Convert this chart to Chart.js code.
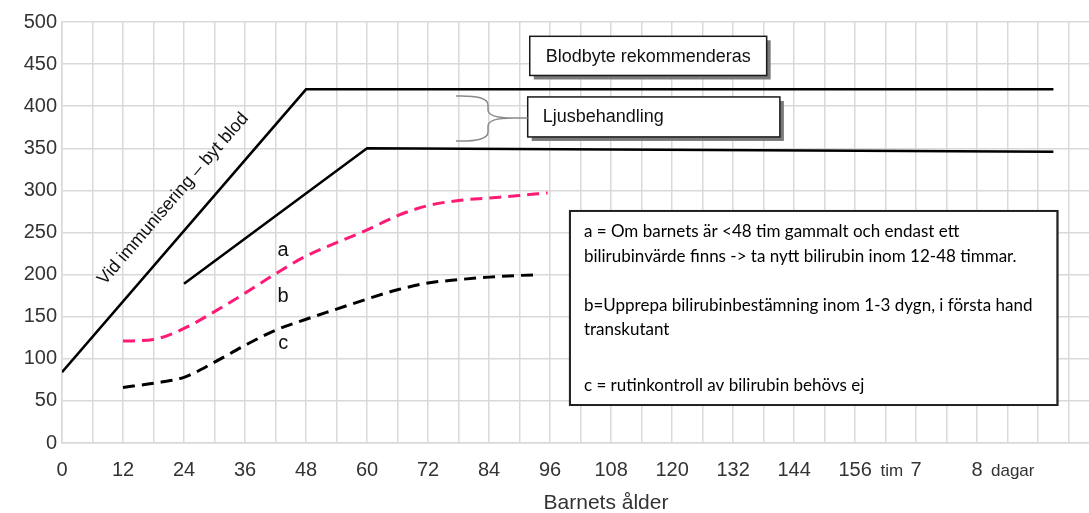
<!DOCTYPE html>
<html lang="sv">
<head>
<meta charset="utf-8">
<title>Bilirubin – Barnets ålder</title>
<script src="https://cdn.jsdelivr.net/npm/chart.js@4.4.1/dist/chart.umd.min.js"></script>
<style>
  html, body { margin: 0; padding: 0; background: #fff; }
  canvas { display: block; }
</style>
</head>
<body>
<canvas id="chart" width="1089" height="513"></canvas>
<script>
// Gränslinjer (timmar, µmol/L)
const exchangeHours = [0, 48, 195];
const exchangeLevels = [84, 420, 420];
const lightHours = [24, 60, 195];
const lightLevels = [189, 350, 346];

// Streckade kurvor
const curveAHours = [12, 18, 24, 30, 36, 42, 48, 54, 60, 66, 72, 78, 84, 90, 95.5];
const curveALevels = [121, 123, 136, 156, 178, 201, 222, 238, 253, 270, 282, 288, 291, 294, 297];
const curveCHours = [12, 18, 24, 30, 36, 42, 48, 54, 60, 66, 72, 78, 84, 90, 94];
const curveCLevels = [66, 71, 78, 96, 116, 134, 147, 159, 171, 182, 190, 194, 197, 199, 200];

// Axlar
const xTickHours = [0, 12, 24, 36, 48, 60, 72, 84, 96, 108, 120, 132, 144, 156, 168, 180];
const xTickLabels = ['0', '12', '24', '36', '48', '60', '72', '84', '96', '108', '120', '132', '144', '156', '7', '8'];
const yTicks = [0, 50, 100, 150, 200, 250, 300, 350, 400, 450, 500];

const infoLines = [
  'a = Om barnets är <48 tim gammalt och endast ett',
  'bilirubinvärde finns -> ta nytt bilirubin inom 12-48 timmar.',
  'b=Upprepa bilirubinbestämning inom 1-3 dygn, i första hand',
  'transkutant',
  'c = rutinkontroll av bilirubin behövs ej'
];

const toPoints = (xs, ys) => xs.map((h, i) => ({ x: h, y: ys[i] }));

const AXIS_FONT = '"Liberation Sans", Arial, sans-serif';

const overlay = {
  id: 'overlay',
  afterDraw(chart) {
    const { ctx, scales: { x, y } } = chart;
    const px = v => x.getPixelForValue(v);
    const py = v => y.getPixelForValue(v);

    function box(h0, v0, h1, v1, shadow) {
      const l = px(h0), t = py(v0), w = px(h1) - l, hgt = py(v1) - t;
      if (shadow) {
        ctx.fillStyle = '#7a7a7a';
        ctx.fillRect(l + 4, t + 4, w, hgt);
      }
      ctx.fillStyle = '#fff';
      ctx.fillRect(l, t, w, hgt);
      ctx.strokeStyle = '#1a1a1a';
      ctx.lineWidth = 1.5;
      ctx.strokeRect(l, t, w, hgt);
      return { l, t, w, h: hgt };
    }

    ctx.save();

    // texten längs blodbyteslinjen
    ctx.save();
    const ang = Math.atan2(py(exchangeLevels[1]) - py(exchangeLevels[0]),
                           px(exchangeHours[1]) - px(exchangeHours[0]));
    ctx.translate(px(22.6), py(286));
    ctx.rotate(ang);
    ctx.font = '18px ' + AXIS_FONT;
    ctx.fillStyle = '#111';
    ctx.textAlign = 'center';
    ctx.textBaseline = 'alphabetic';
    ctx.fillText('Vid immunisering – byt blod', 0, 0);
    ctx.restore();

    // a, b, c
    ctx.font = '20px ' + AXIS_FONT;
    ctx.fillStyle = '#111';
    ctx.textAlign = 'center';
    ctx.textBaseline = 'middle';
    ctx.fillText('a', px(43.5), py(229));
    ctx.fillText('b', px(43.5), py(174));
    ctx.fillText('c', px(43.5), py(118));

    // Blodbyte-rutan
    let b = box(92, 483, 138.6, 436.5, true);
    ctx.font = '18px ' + AXIS_FONT;
    ctx.fillStyle = '#111';
    ctx.textAlign = 'center';
    ctx.fillText('Blodbyte rekommenderas', b.l + b.w / 2, b.t + b.h / 2 + 1);

    // Ljusbehandling-rutan
    b = box(91.6, 411, 141.2, 363.5, true);
    ctx.fillStyle = '#111';
    ctx.textAlign = 'left';
    ctx.fillText('Ljusbehandling', b.l + 15, b.t + b.h / 2);

    // klammer
    const bx0 = px(77.5), bx1 = px(83.8), bx2 = px(88.7);
    const by0 = py(412), bym = py(386), by1 = py(358.7);
    ctx.strokeStyle = '#8a8a8a';
    ctx.lineWidth = 1.5;
    ctx.beginPath();
    ctx.moveTo(bx0, by0);
    ctx.quadraticCurveTo(bx1, by0 - 1, bx1, by0 + 9);
    ctx.lineTo(bx1, bym - 8);
    ctx.quadraticCurveTo(bx1, bym, bx2, bym);
    ctx.quadraticCurveTo(bx1, bym, bx1, bym + 8);
    ctx.lineTo(bx1, by1 - 9);
    ctx.quadraticCurveTo(bx1, by1 + 1, bx0, by1);
    ctx.moveTo(bx2, bym);
    ctx.lineTo(b.l, bym);
    ctx.stroke();

    // förklaringsrutan
    const lb = box(99.9, 275.6, 195.8, 45.1, false);
    ctx.lineWidth = 2;
    ctx.strokeStyle = '#222';
    ctx.strokeRect(lb.l, lb.t, lb.w, lb.h);
    ctx.font = '17px Lato, "Open Sans", sans-serif';
    ctx.fillStyle = '#000';
    ctx.textAlign = 'left';
    ctx.textBaseline = 'middle';
    const lineOffsets = [21, 46, 95, 119, 175];
    infoLines.forEach((txt, i) => ctx.fillText(txt, lb.l + 14, lb.t + lineOffsets[i]));

    // tim / dagar under x-axeln
    ctx.font = '17px ' + AXIS_FONT;
    ctx.fillStyle = '#333';
    ctx.textAlign = 'center';
    ctx.fillText('tim', px(163.2), x.top + 28);
    ctx.fillText('dagar', px(187), x.top + 28);

    // axeltitel
    ctx.font = '21px ' + AXIS_FONT;
    ctx.fillText('Barnets ålder', px(107), x.top + 60);

    ctx.restore();
  }
};

new Chart(document.getElementById('chart'), {
  type: 'scatter',
  data: {
    datasets: [
      {
        label: 'Blodbyte',
        data: toPoints(exchangeHours, exchangeLevels),
        showLine: true,
        borderColor: '#000',
        borderWidth: 2.5,
        pointRadius: 0,
        tension: 0
      },
      {
        label: 'Ljusbehandling',
        data: toPoints(lightHours, lightLevels),
        showLine: true,
        borderColor: '#000',
        borderWidth: 2.5,
        pointRadius: 0,
        tension: 0
      },
      {
        label: 'a/b',
        data: toPoints(curveAHours, curveALevels),
        showLine: true,
        borderColor: '#ff1a75',
        borderWidth: 3,
        borderDash: [12, 7],
        pointRadius: 0,
        cubicInterpolationMode: 'monotone'
      },
      {
        label: 'b/c',
        data: toPoints(curveCHours, curveCLevels),
        showLine: true,
        borderColor: '#000',
        borderWidth: 3,
        borderDash: [12, 7],
        pointRadius: 0,
        cubicInterpolationMode: 'monotone'
      }
    ]
  },
  options: {
    responsive: false,
    animation: false,
    devicePixelRatio: 1,
    layout: { padding: { top: 22, right: 0, bottom: 0, left: 0 } },
    plugins: {
      legend: { display: false },
      tooltip: { enabled: false }
    },
    scales: {
      x: {
        type: 'linear',
        min: 0,
        max: 202,
        afterBuildTicks: s => {
          const t = [];
          for (let h = 0; h <= 198; h += 6) t.push({ value: h });
          s.ticks = t;
        },
        afterFit: s => { s.height = 70; },
        grid: { color: '#d9d9d9', lineWidth: 1.5, drawTicks: false },
        border: { color: '#d9d9d9', width: 1.5 },
        ticks: {
          autoSkip: false,
          maxRotation: 0,
          padding: 15,
          color: '#333',
          font: { family: AXIS_FONT, size: 20 },
          callback: v => {
            const i = xTickHours.indexOf(v);
            return i >= 0 ? xTickLabels[i] : '';
          }
        }
      },
      y: {
        min: 0,
        max: 500,
        afterBuildTicks: s => { s.ticks = yTicks.map(v => ({ value: v })); },
        afterFit: s => { s.width = 62; },
        grid: { color: '#d9d9d9', lineWidth: 1.5, drawTicks: false },
        border: { color: '#d9d9d9', width: 1.5 },
        ticks: {
          padding: 5,
          color: '#333',
          font: { family: AXIS_FONT, size: 20 }
        }
      }
    }
  },
  plugins: [overlay]
});
</script>
</body>
</html>
